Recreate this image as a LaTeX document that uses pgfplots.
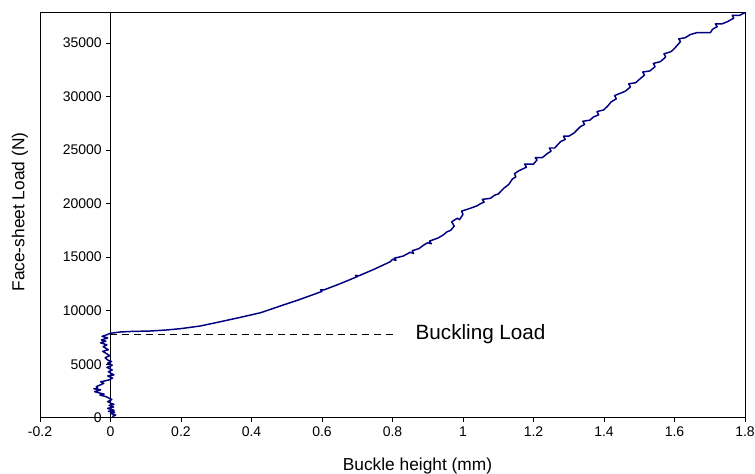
\documentclass[border=0pt]{standalone}
\usepackage{fontspec}
\setmainfont{Liberation Sans}
\usepackage{pgfplots}
\pgfplotsset{compat=1.18}
\definecolor{navy}{RGB}{0,0,128}
\begin{document}
\begin{tikzpicture}
\begin{axis}[
  scale only axis,
  width=528.75pt, height=304.2pt,
  xmin=-0.2, xmax=1.8, ymin=0, ymax=37900,
  axis x line*=bottom, axis y line*=center,
  axis line style={-, line width=0.6pt},
  tick align=outside,
  major tick length=3pt,
  tick style={black, line width=0.6pt},
  xtick={-0.2,0,0.2,0.4,0.6,0.8,1,1.2,1.4,1.6,1.8},
  ytick={5000,10000,15000,20000,25000,30000,35000},
  extra y ticks={0},
  extra y tick style={yticklabel style={/pgf/number format/fixed, font=\fontsize{10.5}{12}\selectfont}},
  scaled ticks=false,
  /pgf/number format/assume math mode=true,
  xticklabel style={/pgf/number format/fixed, font=\fontsize{10.5}{12}\selectfont},
  yticklabel style={/pgf/number format/fixed, /pgf/number format/1000 sep={}, font=\fontsize{10.5}{12}\selectfont},
  xlabel={Buckle height (mm)},
  ylabel={Face-sheet Load (N)},
  every axis x label/.style={at={(rel axis cs:0.5355,-0.129)}, anchor=base, font=\fontsize{13}{15}\selectfont},
  every axis y label/.style={at={(rel axis cs:-0.0284,0.507)}, anchor=center, rotate=90, font=\fontsize{13}{15}\selectfont},
  clip=false,
]
\draw[line width=0.6pt] (rel axis cs:0,0) rectangle (rel axis cs:1,1);
\addplot[black, dashed, dash pattern=on 5pt off 4pt, line width=0.6pt] coordinates {(0,7820) (0.814,7820)};
\node[anchor=west, font=\fontsize{15.5}{18}\selectfont, inner sep=0pt] at (axis cs:0.865,7840) {Buckling Load};
\addplot[navy, line width=1.1pt, line join=round] coordinates {
(0.005,100) (0.015,250) (0.000,400) (0.012,520) (-0.006,600) (0.010,700) (-0.008,870) (0.009,1000) (-0.004,1150) (0.010,1250) (0.002,1340) (-0.008,1500) (0.004,1700)
(-0.012,1960) (-0.030,2120) (-0.018,2200) (-0.045,2430) (-0.028,2600) (-0.047,2700) (-0.036,2750) (-0.040,2900) (-0.019,3210) (-0.028,3350) (-0.005,3520)
(0.006,3700) (-0.008,3900) (0.010,4000) (0.004,4100) (-0.006,4300) (0.005,4460) (-0.010,4700) (0.005,4900) (-0.008,5100) (0.003,5250) (-0.008,5390)
(-0.015,5600) (-0.002,5800) (-0.013,6020) (-0.022,6200) (-0.006,6350) (-0.021,6640) (-0.010,6800) (-0.028,7000) (-0.013,7150) (-0.026,7260) (-0.008,7450)
(-0.024,7600) (-0.012,7730) (0,7890)
(0.028,8010) (0.06,8060) (0.113,8100) (0.16,8200) (0.199,8320) (0.255,8570) (0.312,8970) (0.369,9380) (0.426,9810) (0.482,10440) (0.533,11000)
(0.60,11800) (0.596,11950) (0.605,11935) (0.650,12500) (0.700,13180) (0.695,13300) (0.704,13250) (0.750,13900) (0.794,14580) (0.80,14800) (0.81,14700) (0.805,14900) (0.83,15100) (0.85,15450) (0.86,15350) (0.856,15600) (0.875,15800)
(0.889,16140) (0.90,16350) (0.91,16250) (0.905,16500) (0.93,16800) (0.945,17100) (0.955,17380) (0.965,17500) (0.975,17900) (0.968,18300) (0.984,18640) (0.99,18500)
(1.00,19000) (0.996,19300) (1.021,19570) (1.04,19800) (1.05,20000) (1.06,20150) (1.055,20400) (1.078,20500) (1.09,20800) (1.10,20900) (1.116,21440) (1.13,21800) (1.14,22300)
(1.150,22500) (1.146,22800) (1.155,23000) (1.163,23150) (1.18,23400) (1.175,23700) (1.19,23700) (1.20,23700) (1.21,24080) (1.205,24300) (1.225,24300) (1.24,24700) (1.25,24900) (1.245,25200) (1.26,25200)
(1.277,25800) (1.29,26000) (1.285,26300) (1.30,26300) (1.315,26600) (1.333,27200) (1.345,27400) (1.340,27700) (1.36,27800) (1.37,28100) (1.385,28300) (1.380,28600) (1.399,28760) (1.41,29100)
(1.42,29500) (1.435,29800) (1.430,30100) (1.447,30320) (1.46,30500) (1.475,30900) (1.470,31200) (1.49,31300) (1.504,31720) (1.515,32000) (1.510,32300) (1.53,32400) (1.545,32800) (1.540,33100) (1.56,33270)
(1.575,33700) (1.570,34000) (1.59,34200) (1.60,34500) (1.617,35140) (1.612,35400) (1.63,35500) (1.645,35800) (1.664,35980) (1.702,35980) (1.708,36300) (1.721,36540) (1.716,36800) (1.735,36800)
(1.75,37000) (1.768,37330) (1.764,37600) (1.785,37600) (1.80,37850)
};
\coordinate (ll) at (rel axis cs:-0.0567,-0.1388);
\coordinate (ur) at (rel axis cs:1.0142,1.0298);
\end{axis}
\pgfresetboundingbox
\path (ll) rectangle (ur);
\end{tikzpicture}
\end{document}
